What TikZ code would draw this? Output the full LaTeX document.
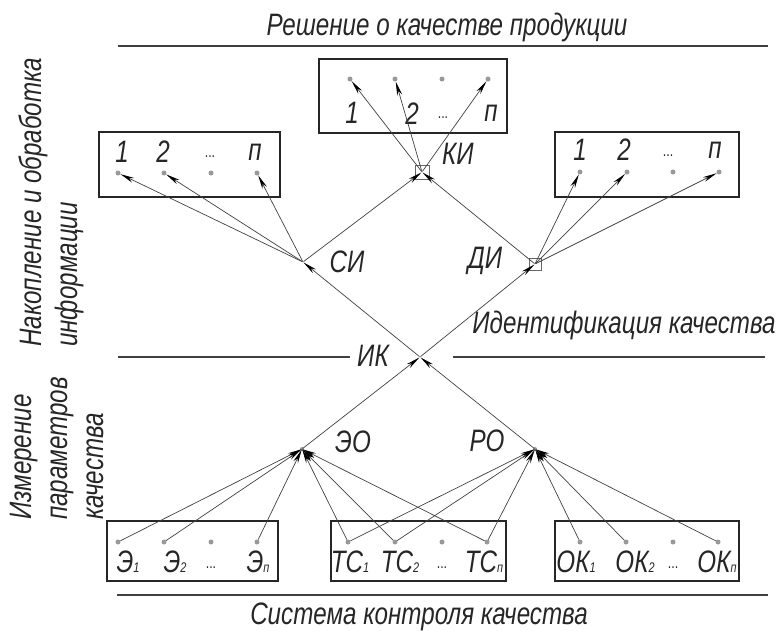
\documentclass[tikz,border=0pt]{standalone}
\usepackage{fontspec}
\setmainfont{Liberation Sans}[FakeStretch=0.78]
\usetikzlibrary{arrows.meta,positioning}
\tikzset
{
    pnt/.style    = {circle, fill=black!40, inner sep=0pt, minimum size=5pt},
    hub/.style    = {circle, inner sep=0pt, minimum size=1pt},
    sqmark/.style = {rectangle, draw=black!60, line width=0.6pt, inner sep=0pt, minimum size=12pt},
    frame/.style  = {rectangle, draw=black!85, line width=2.4pt},
    lbl/.style    = {font=\fontsize{31}{36}\selectfont\itshape, inner sep=0pt, text=black!85},
    dotlbl/.style = {font=\fontsize{16}{16}\selectfont, inner sep=0pt, text=black!85},
    sepline/.style = {draw=black!75, line width=2pt},
    link/.style   = {->, draw=black!75, line width=0.7pt}
}
\newcommand{\ix}[1]{{\fontsize{14}{14}\selectfont #1}}

\begin{document}
\begin{tikzpicture}[x=1pt, y=-1pt, >={Stealth[length=14pt, width=5pt, color=black]}]
\useasboundingbox (0,0) rectangle (783,630);

%% headings and rules
\node (title)   [lbl] at (447,27)  {Решение о качестве продукции};
\node (ident)   [lbl] at (624,325) {Идентификация качества};
\node (system)  [lbl] at (419,617) {Система контроля качества};
\node (accum)   [lbl, rotate=90, align=left, anchor=north west] at (19,347) {Накопление и обработка\\информации};
\node (measure) [lbl, rotate=90, align=left, anchor=north west] at (10,520) {Измерение\\параметров\\качества};
\draw[sepline] (118,46) -- (768,46);
\draw[sepline] (118,357) -- (350,357);
\draw[sepline] (453,357) -- (765,357);
\draw[sepline] (117,595) -- (768,595);

%% boxes
\node (topbox)   [frame, minimum width=188pt, minimum height=74pt] at (413,96)  {};
\node (leftbox)  [frame, minimum width=181pt, minimum height=65pt] at (189.5,164.5) {};
\node (rightbox) [frame, minimum width=184pt, minimum height=65pt] at (647,164.5) {};
\node (ebox)     [frame, minimum width=171pt, minimum height=60pt] at (192.5,551) {};
\node (cbox)     [frame, minimum width=175pt, minimum height=60pt] at (418.5,551) {};
\node (kbox)     [frame, minimum width=184pt, minimum height=60pt] at (647,551)   {};

%% top outputs
\node (t1) [pnt] at (350,79) {};
\node (t2) [pnt] at (395,79) {};
\node (td) [pnt] at (442,79) {};
\node (tn) [pnt] at (488,79) {};
\node (t1txt) [lbl]    at (352,113) {1};
\node (t2txt) [lbl]    at (412,114) {2};
\node (tdtxt) [dotlbl] at (443,118) {...};
\node (tntxt) [lbl]    at (491,113) {п};

\node (l1) [pnt] at (118,173) {};
\node (l2) [pnt] at (164,173) {};
\node (ld) [pnt] at (211,173) {};
\node (ln) [pnt] at (257,173) {};
\node (l1txt) [lbl]    at (122,152) {1};
\node (l2txt) [lbl]    at (163,152) {2};
\node (ldtxt) [dotlbl] at (210,157) {...};
\node (lntxt) [lbl]    at (255,152) {п};

\node (r1) [pnt] at (580,172) {};
\node (r2) [pnt] at (627,172) {};
\node (rd) [pnt] at (673,172) {};
\node (rn) [pnt] at (719,172) {};
\node (r1txt) [lbl]    at (580,150) {1};
\node (r2txt) [lbl]    at (624,150) {2};
\node (rdtxt) [dotlbl] at (668,156) {...};
\node (rntxt) [lbl]    at (715,150) {п};

%% bottom inputs
\node (e1) [pnt] at (118,542) {};
\node (e2) [pnt] at (164,542) {};
\node (ed) [pnt] at (211,542) {};
\node (en) [pnt] at (257,542) {};
\node (c1) [pnt] at (348,542) {};
\node (c2) [pnt] at (395,542) {};
\node (cd) [pnt] at (442,542) {};
\node (cn) [pnt] at (487,542) {};
\node (k1) [pnt] at (580,542) {};
\node (k2) [pnt] at (626,542) {};
\node (kd) [pnt] at (673,542) {};
\node (kn) [pnt] at (718,542) {};
\node (e1txt) [lbl]    at (128,562) {Э\ix{1}};
\node (e2txt) [lbl]    at (175,562) {Э\ix{2}};
\node (edtxt) [dotlbl] at (211,568) {...};
\node (entxt) [lbl]    at (258,562) {Э\ix{п}};
\node (c1txt) [lbl]    at (350,562) {ТС\ix{1}};
\node (c2txt) [lbl]    at (400,562) {ТС\ix{2}};
\node (cdtxt) [dotlbl] at (442,568) {...};
\node (cntxt) [lbl]    at (484,562) {ТС\ix{п}};
\node (k1txt) [lbl]    at (576,562) {ОК\ix{1}};
\node (k2txt) [lbl]    at (635,562) {ОК\ix{2}};
\node (kdtxt) [dotlbl] at (673,568) {...};
\node (kntxt) [lbl]    at (717,562) {ОК\ix{п}};

%% junctions
\node (EO) [hub] at (302,449) {};
\node (RO) [hub] at (535,449) {};
\node (IK) [hub] at (420,357) {};
\node (SI) [hub] at (303,262) {};
\node (DI) [hub] at (535,264) {};
\node (KI) [hub] at (422,172) {};
\node (EOdot) [pnt, minimum size=4pt] at (EO) {};
\node (ROdot) [pnt, minimum size=4pt] at (RO) {};
\node (DIbox) [sqmark] at (DI) {};
\node (KIbox) [sqmark, minimum size=14pt] at (KI) {};
\node (EOtxt) [lbl] at (353,442) {ЭО};
\node (ROtxt) [lbl] at (487,441) {РО};
\node (IKtxt) [lbl] at (373,356) {ИК};
\node (SItxt) [lbl] at (347,262) {СИ};
\node (DItxt) [lbl] at (485,261) {ДИ};
\node (KItxt) [lbl] at (458,154) {КИ};

\path
(e1) edge[link] (EO)
(e2) edge[link] (EO)
(en) edge[link] (EO)
(c1) edge[link] (EO)
(c2) edge[link] (EO)
(cn) edge[link] (EO)
(c1) edge[link] (RO)
(c2) edge[link] (RO)
(cn) edge[link] (RO)
(k1) edge[link] (RO)
(k2) edge[link] (RO)
(kn) edge[link] (RO);

\path
(EO) edge[link] (IK)
(RO) edge[link] (IK)
(IK) edge[link] (SI)
(IK) edge[link] (DI)
(SI) edge[link] (l1)
(SI) edge[link] (l2)
(SI) edge[link] (ln)
(SI) edge[link] (KI)
(DI) edge[link] (r1)
(DI) edge[link] (r2)
(DI) edge[link] (rn)
(DI) edge[link] (KI)
(KI) edge[link] (t1)
(KI) edge[link] (t2)
(KI) edge[link] (tn);
\end{tikzpicture}
\end{document}
